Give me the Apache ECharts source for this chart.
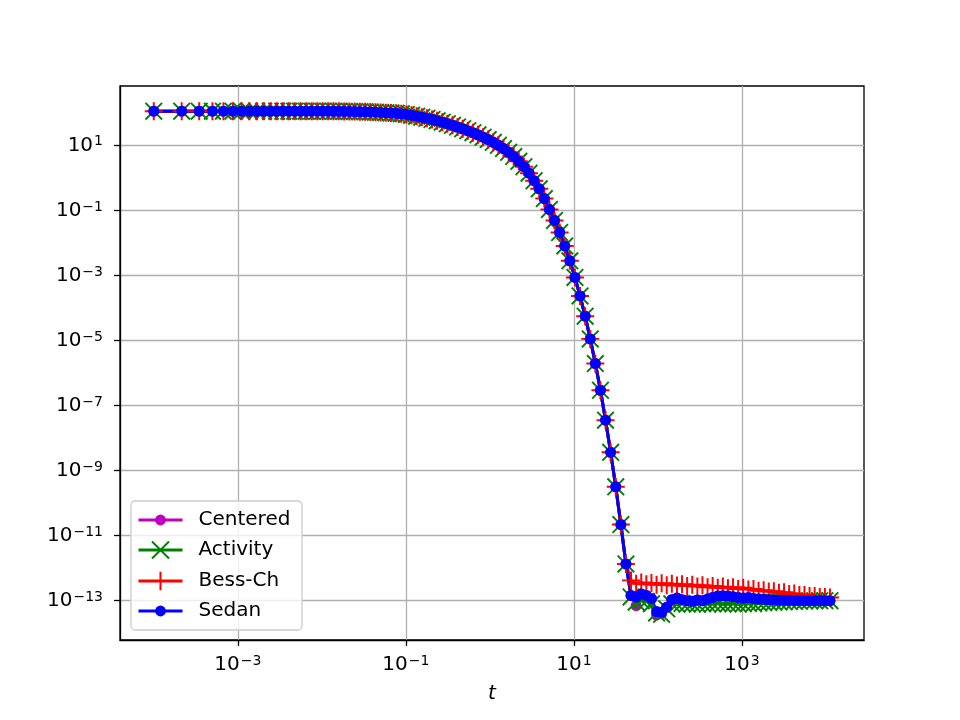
<!DOCTYPE html>
<html>
<head>
<meta charset="utf-8">
<script src="https://cdn.jsdelivr.net/npm/echarts@6/dist/echarts.min.js"></script>
<style>
  html, body { margin: 0; padding: 0; background: #fff; }
  #main { width: 960px; height: 720px; }
</style>
</head>
<body>
<div id="main"></div>
<script>
// time points (adaptive step)
var tVals = [
  1.00e-4, 2.15e-4, 3.47e-4, 4.99e-4, 6.74e-4, 8.75e-4, 1.107e-3, 1.373e-3, 1.679e-3, 2.030e-3,
  2.435e-3, 2.900e-3, 3.435e-3, 4.050e-3, 4.758e-3, 5.572e-3, 6.507e-3, 7.584e-3, 8.821e-3, 1.024e-2,
  1.188e-2, 1.376e-2, 1.593e-2, 1.842e-2, 2.128e-2, 2.457e-2, 2.836e-2, 3.271e-2, 3.772e-2, 4.347e-2,
  5.009e-2, 5.771e-2, 6.647e-2, 7.654e-2, 8.812e-2, 0.1014, 0.1168, 0.1344, 0.1546, 0.1779,
  0.2047, 0.2355, 0.2709, 0.3117, 0.3585, 0.4124, 0.4743, 0.5456, 0.6275, 0.7218,
  0.8301, 0.9547, 1.098, 1.263, 1.452, 1.670, 1.921, 2.209, 2.541, 2.922,
  3.360, 3.865, 4.444, 5.111, 5.878, 6.760, 7.774, 8.940, 10.28, 11.82,
  13.60, 15.64, 17.98, 20.68, 23.78, 27.35, 31.45, 36.17, 41.59, 47.83,
  55.01, 63.26, 72.75, 83.66, 96.21, 110.6, 127.2, 146.3, 168.3, 193.5,
  222.5, 255.9, 294.3, 338.5, 389.2, 447.6, 514.7, 592.0, 680.7, 782.9,
  900.3, 1035, 1191, 1369, 1575, 1811, 2082, 2395, 2754, 3167,
  3642, 4189, 4817, 5539, 6370, 7326, 8425, 9688, 11141
];

// common decay part (first 79 points, all methods agree)
var decay = [
  112.5, 112.5, 112.5, 112.5, 112.5, 112.5, 112.5, 112.5, 112.5, 112.5,
  112.5, 112.5, 112.5, 112.5, 112.5, 112.5, 112.5, 112.5, 112.4, 112.2,
  112.0, 111.7, 111.3, 110.8, 110.2, 109.5, 108.6, 107.5, 106.2, 104.7,
  103.0, 101.0, 98.8, 96.3, 93.4, 89.1, 84.1, 78.9, 73.5, 67.9,
  62.4, 56.9, 51.5, 46.3, 41.4, 36.7, 32.4, 28.3, 24.5, 21.1,
  17.9, 15.1, 12.4, 10.07, 7.96, 6.11, 4.53, 3.23, 2.21, 1.39,
  0.82, 0.461, 0.231, 0.107, 0.049, 0.0209, 8.1e-3, 2.82e-3, 8.7e-4, 2.34e-4,
  5.6e-5, 1.12e-5, 1.95e-6, 2.95e-7, 3.55e-8, 3.63e-9, 3.16e-10, 2.19e-11, 1.35e-12
];

// tails (last 40 points) where the methods differ
var centeredTail = [
  1.45e-13, 7.0e-14, 1.6e-13, 1.45e-13, 1.15e-13, 3.6e-14, 4.0e-14, 6.3e-14, 1.07e-13, 1.2e-13,
  1.07e-13, 1.0e-13, 9.5e-14, 1.05e-13, 1.0e-13, 1.12e-13, 1.26e-13, 1.38e-13, 1.41e-13, 1.38e-13,
  1.32e-13, 1.26e-13, 1.2e-13, 1.26e-13, 1.17e-13, 1.12e-13, 1.1e-13, 1.07e-13, 1.05e-13, 1.03e-13,
  1.02e-13, 1.02e-13, 1.01e-13, 1.01e-13, 1.0e-13, 1.0e-13, 1.0e-13, 1.0e-13, 1.0e-13, 1.0e-13
];
var activityTail = [
  1.3e-13, 9.0e-14, 1.0e-13, 9.5e-14, 8.0e-14, 4.2e-14, 3.8e-14, 5.6e-14, 8.0e-14, 7.8e-14,
  8.2e-14, 7.9e-14, 8.0e-14, 7.8e-14, 8.1e-14, 7.9e-14, 8.0e-14, 8.2e-14, 7.9e-14, 8.0e-14,
  8.1e-14, 7.9e-14, 8.0e-14, 8.2e-14, 8.1e-14, 8.5e-14, 8.6e-14, 8.8e-14, 8.9e-14, 9.1e-14,
  9.2e-14, 9.4e-14, 9.5e-14, 9.6e-14, 9.7e-14, 9.8e-14, 9.9e-14, 1.0e-13, 1.0e-13, 1.0e-13
];
var bessChTail = [
  4.2e-13, 3.3e-13, 3.6e-13, 3.2e-13, 3.5e-13, 3.1e-13, 3.4e-13, 3.0e-13, 3.3e-13, 2.9e-13,
  3.2e-13, 2.8e-13, 3.1e-13, 2.7e-13, 3.0e-13, 2.6e-13, 2.8e-13, 2.5e-13, 2.7e-13, 2.4e-13,
  2.6e-13, 2.3e-13, 2.5e-13, 2.2e-13, 2.3e-13, 2.0e-13, 2.1e-13, 1.9e-13, 1.95e-13, 1.75e-13,
  1.8e-13, 1.6e-13, 1.65e-13, 1.5e-13, 1.5e-13, 1.4e-13, 1.4e-13, 1.3e-13, 1.3e-13, 1.25e-13
];
var sedanTail = [
  1.45e-13, 1.29e-13, 1.6e-13, 1.45e-13, 1.15e-13, 4.6e-14, 4.4e-14, 6.3e-14, 1.07e-13, 1.2e-13,
  1.07e-13, 1.0e-13, 9.5e-14, 1.05e-13, 1.0e-13, 1.12e-13, 1.26e-13, 1.38e-13, 1.41e-13, 1.38e-13,
  1.32e-13, 1.26e-13, 1.2e-13, 1.26e-13, 1.17e-13, 1.12e-13, 1.1e-13, 1.07e-13, 1.05e-13, 1.03e-13,
  1.02e-13, 1.02e-13, 1.01e-13, 1.01e-13, 1.0e-13, 1.0e-13, 1.0e-13, 1.0e-13, 1.0e-13, 1.0e-13
];

var xTicks = [1e-3, 1e-1, 1e1, 1e3];
var yTicks = [1e1, 1e-1, 1e-3, 1e-5, 1e-7, 1e-9, 1e-11, 1e-13];

var FONT = 'DejaVu Sans';
var plusPath = 'path://M-0.11,-1L0.11,-1L0.11,-0.11L1,-0.11L1,0.11L0.11,0.11L0.11,1L-0.11,1L-0.11,0.11L-1,0.11L-1,-0.11L-0.11,-0.11Z';
var crossPath = 'path://M-1,-0.85L-0.85,-1L0,-0.15L0.85,-1L1,-0.85L0.15,0L1,0.85L0.85,1L0,0.15L-0.85,1L-1,0.85L-0.15,0Z';

function pairs(vals) {
  return tVals.map(function (t, i) { return [t, vals[i]]; });
}

function powLabel(v) {
  var e = Math.round(Math.log10(v));
  return '{b|10}{s|' + (e < 0 ? '\u2212' + (-e) : e) + '}';
}
var richLab = {
  b: { fontSize: 20, fontFamily: FONT, color: '#000', verticalAlign: 'bottom' },
  s: { fontSize: 14, fontFamily: FONT, color: '#000', verticalAlign: 'bottom', padding: [0, 0, 7, 1] }
};

var mychart = echarts.init(document.getElementById('main'));

function mkSeries(name, vals, color, symbol, size) {
  return {
    name: name,
    type: 'line',
    data: pairs(vals),
    symbol: symbol,
    symbolSize: size,
    showSymbol: true,
    showAllSymbol: true,
    lineStyle: { color: color, width: 3 },
    itemStyle: { color: color },
    emphasis: { disabled: true },
    z: 2
  };
}

function mkLegend(name, center, itemH) {
  return {
    data: [name],
    left: 137,
    top: center - 12,
    padding: 0,
    itemWidth: 44,
    itemHeight: itemH,
    selectedMode: false,
    z: 6,
    lineStyle: { width: 3 },
    textStyle: { fontSize: 20, fontFamily: FONT, color: '#000', lineHeight: 24, padding: [0, 0, 0, 11] }
  };
}

var option = {
  animation: false,
  backgroundColor: '#fff',
  grid: { left: 120, right: 96, top: 86, bottom: 80, show: true, borderColor: '#000', borderWidth: 1.3, backgroundColor: 'transparent' },
  legend: [
    mkLegend('Centered', 520, 13.5),
    mkLegend('Activity', 550, 23),
    mkLegend('Bess-Ch', 581, 23),
    mkLegend('Sedan', 611, 13.5)
  ],
  graphic: [{
    type: 'rect', z: 5,
    shape: { x: 131, y: 501, width: 171, height: 129, r: 4 },
    style: { fill: 'rgba(255,255,255,0.8)', stroke: '#cccccc', lineWidth: 1.3 }
  }],
  xAxis: {
    type: 'log',
    logBase: 10,
    min: Math.pow(10, -4.402),
    max: Math.pow(10, 4.452),
    name: 't',
    nameLocation: 'middle',
    nameGap: 44,
    nameTextStyle: { fontSize: 20, fontFamily: FONT, fontStyle: 'italic', color: '#000' },
    axisLine: { show: true, lineStyle: { color: '#000', width: 1.3 } },
    axisTick: { show: true, length: 6, inside: false, lineStyle: { color: '#000', width: 1.3 }, customValues: xTicks },
    axisLabel: { customValues: xTicks, margin: 14, formatter: powLabel, rich: richLab },
    splitLine: { show: true, lineStyle: { color: '#b0b0b0', width: 1.3 } },
    minorTick: { show: false },
    minorSplitLine: { show: false }
  },
  yAxis: {
    type: 'log',
    logBase: 10,
    min: Math.pow(10, -14.21),
    max: Math.pow(10, 2.825),
    axisLine: { show: true, lineStyle: { color: '#000', width: 1.3 } },
    axisTick: { show: true, length: 6, inside: false, lineStyle: { color: '#000', width: 1.3 }, customValues: yTicks },
    axisLabel: { customValues: yTicks, margin: 17, formatter: powLabel, rich: richLab },
    splitLine: { show: true, lineStyle: { color: '#b0b0b0', width: 1.3 } },
    minorTick: { show: false },
    minorSplitLine: { show: false }
  },
  series: [
    mkSeries('Centered', decay.concat(centeredTail), '#bf00bf', 'circle', 11),
    mkSeries('Activity', decay.concat(activityTail), '#008000', crossPath, 18),
    mkSeries('Bess-Ch', decay.concat(bessChTail), '#ff0000', plusPath, 18),
    mkSeries('Sedan', decay.concat(sedanTail), '#0000ff', 'circle', 11)
  ]
};

mychart.setOption(option);
</script>
</body>
</html>
